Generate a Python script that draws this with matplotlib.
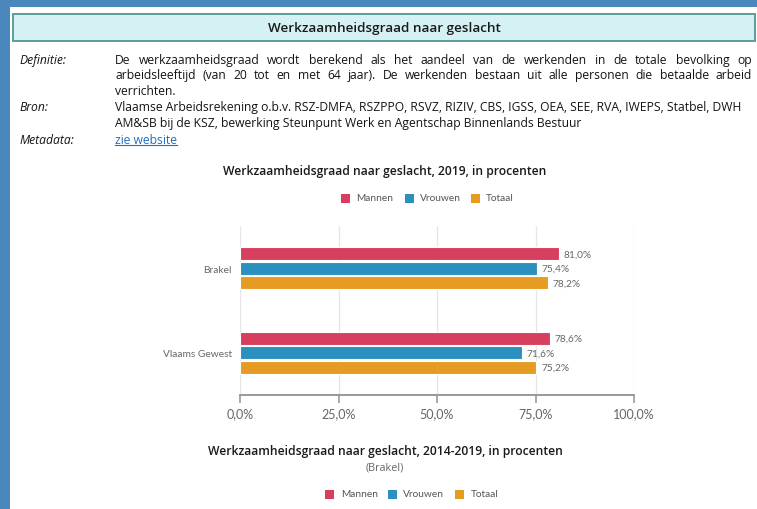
import matplotlib
matplotlib.use("Agg")
import matplotlib.pyplot as plt
from matplotlib.patches import Rectangle
from matplotlib.lines import Line2D

# ---------------- data ----------------
categories = ["Brakel", "Vlaams Gewest"]
series_names = ["Mannen", "Vrouwen", "Totaal"]
mannen = [81.0, 78.6]
vrouwen = [75.4, 71.6]
totaal = [78.2, 75.2]
xticks = [0, 25, 50, 75, 100]

header_title = "Werkzaamheidsgraad naar geslacht"
chart1_title = "Werkzaamheidsgraad naar geslacht, 2019, in procenten"
chart2_title = "Werkzaamheidsgraad naar geslacht, 2014-2019, in procenten"
chart2_sub = "(Brakel)"
def_lines = [
    "De werkzaamheidsgraad wordt berekend als het aandeel van de werkenden in de totale bevolking op",
    "arbeidsleeftijd (van 20 tot en met 64 jaar). De werkenden bestaan uit alle personen die betaalde arbeid",
    "verrichten.",
]
bron_lines = [
    "Vlaamse Arbeidsrekening o.b.v. RSZ-DMFA, RSZPPO, RSVZ, RIZIV, CBS, IGSS, OEA, SEE, RVA, IWEPS, Statbel, DWH",
    "AM&SB bij de KSZ, bewerking Steunpunt Werk en Agentschap Binnenlands Bestuur",
]

colors = ["#d63f5e", "#2a90be", "#e69b23"]

W, H = 757, 510
fig = plt.figure(figsize=(W / 100, H / 100), dpi=100)
fig.patch.set_facecolor("white")

def fx(x):
    return x / W

def fy(y):
    return 1 - y / H

# blue frame
fig.patches.append(Rectangle((0, 0), fx(10), 1, transform=fig.transFigure,
                             facecolor="#4a87bd", edgecolor="none", zorder=0))
fig.patches.append(Rectangle((0, fy(8)), 1, 8 / H, transform=fig.transFigure,
                             facecolor="#4a87bd", edgecolor="none", zorder=0))
# header box
fig.patches.append(Rectangle((fx(12.5), fy(41.5)), (755 - 12.5) / W, (41.5 - 14.5) / H,
                             transform=fig.transFigure, facecolor="#d5f1f3",
                             edgecolor="#5c9c99", linewidth=1.4, zorder=1))

TXT_FONT = "Open Sans"
CH_FONT = "Lato"

fig.text(fx(384.5), fy(28.5), header_title, ha="center", va="center", fontsize=9.7,
         family=TXT_FONT, weight="semibold", color="#1a1a1a")

body_fs = 8.7
body_col = "#141414"
renderer = fig.canvas.get_renderer()
BL = 4.6  # baseline offset from visual centre

def justify(line, x0, x1, y):
    words = line.split(" ")
    widths = []
    for w in words:
        t = fig.text(0, 0, w, fontsize=body_fs, family=TXT_FONT)
        widths.append(t.get_window_extent(renderer).width)
        t.remove()
    gap = ((x1 - x0) - sum(widths)) / (len(words) - 1)
    x = x0
    for w, wd in zip(words, widths):
        fig.text(fx(x), fy(y + BL), w, fontsize=body_fs, family=TXT_FONT, color=body_col,
                 ha="left", va="baseline")
        x += wd + gap

def line(x, y, s, **kw):
    d = dict(fontsize=body_fs, family=TXT_FONT, color=body_col, ha="left", va="baseline")
    d.update(kw)
    return fig.text(fx(x), fy(y + BL), s, **d)

line(19, 59, "Definitie:", style="italic")
justify(def_lines[0], 115, 752, 59)
justify(def_lines[1], 115, 752, 74.5)
line(115, 90, def_lines[2])
line(19, 106, "Bron:", style="italic")
line(115, 106, bron_lines[0])
line(115, 122, bron_lines[1])
line(19, 139, "Metadata:", style="italic")
lnk = line(115, 139, "zie website", color="#1f6fc5")
bb = lnk.get_window_extent(renderer)
fig.lines.append(Line2D([fx(115), fx(115) + bb.width / W], [fy(146), fy(146)],
                        transform=fig.transFigure, color="#1f6fc5", lw=0.8))

# ---------------- chart 1 ----------------
fig.text(fx(384.5), fy(172), chart1_title, ha="center", va="center", fontsize=8.7,
         family=TXT_FONT, weight="semibold", color="#1a1a1a")

def legend(y, squares, texts):
    for sx, tx, name, c in zip(squares, texts, series_names, colors):
        fig.patches.append(Rectangle((fx(sx), fy(y + 4.5)), 9 / W, 9 / H,
                                     transform=fig.transFigure, facecolor=c,
                                     edgecolor="none"))
        fig.text(fx(tx), fy(y), name, ha="left", va="center", fontsize=7.3,
                 family=CH_FONT, color="#555555")

legend(199, [341, 405, 471], [356, 420, 486])

ax = fig.add_axes([fx(240), fy(396), (634 - 240) / W, (396 - 227) / H])
ax.set_xlim(0, 100)
ax.set_ylim(1.5, -0.5)
step = 0.1716
bh = 0.148
for k, vals in enumerate([mannen, vrouwen, totaal]):
    for i, v in enumerate(vals):
        yy = i + (k - 1) * step
        ax.barh(yy, v, height=bh, color=colors[k], edgecolor="white", linewidth=0.8,
                zorder=3)
        ax.text(v + 1.2, yy, f"{v:.1f}".replace(".", ",") + "%", ha="left",
                va="center", fontsize=7.3, family=CH_FONT, color="#666666")

ax.set_yticks(range(len(categories)))
ax.set_yticklabels(categories, fontsize=7.3, family=CH_FONT, color="#666666")
ax.tick_params(axis="y", length=0, pad=6)
ax.set_xticks(xticks)
ax.set_xticklabels([f"{v:.1f}".replace(".", ",") + "%" for v in xticks],
                   fontsize=9, family=CH_FONT, color="#666666")
ax.tick_params(axis="x", length=6, width=1.2, color="#999999", pad=3)
ax.grid(axis="x", color="#e6e6e6", lw=0.9, zorder=0)
for s in ["top", "right", "left"]:
    ax.spines[s].set_visible(False)
ax.spines["bottom"].set_color("#999999")
ax.spines["bottom"].set_linewidth(1.4)
ax.set_facecolor("none")

# ---------------- chart 2 heading ----------------
fig.text(fx(385), fy(452), chart2_title, ha="center", va="center", fontsize=8.7,
         family=TXT_FONT, weight="semibold", color="#1a1a1a")
fig.text(fx(385), fy(468), chart2_sub, ha="center", va="center", fontsize=7.8,
         family=TXT_FONT, color="#666666")
legend(495, [325, 388, 455], [341, 403, 471])

fig.savefig("out.png", dpi=100)
